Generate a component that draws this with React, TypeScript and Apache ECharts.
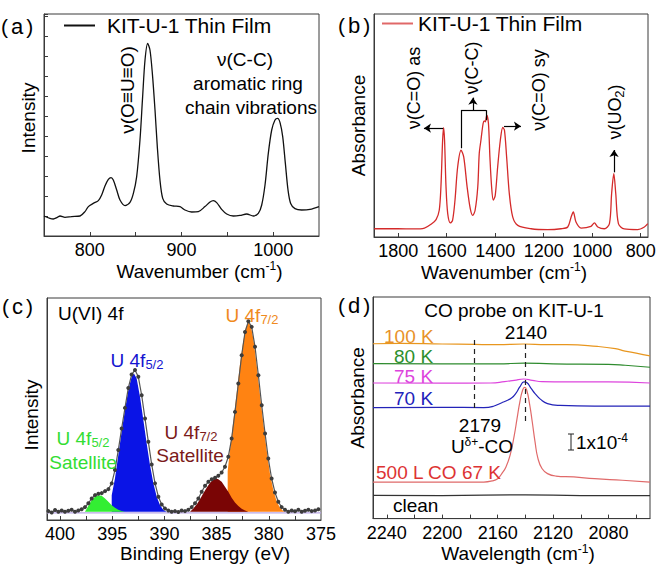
import React, { useEffect, useRef } from 'react';
import * as echarts from 'echarts';

const FONT = '"Liberation Sans", Arial, Helvetica, sans-serif';

// ---------- (a) Raman ----------
const ramanWavenumber = [750.0, 756.5, 760.2, 764.5, 767.5, 772.9, 780.2, 789.3, 794.7, 798.4, 803.8, 809.3, 812.9, 816.5, 820.2, 823.1, 825.6, 829.3, 832.9, 838.4, 843.8, 847.5, 851.1, 854.7, 857.6, 860.2, 863.1, 865.6, 868.2, 871.1, 873.6, 876.5, 879.5, 883.8, 891.1, 898.4, 903.8, 911.1, 918.4, 925.6, 931.1, 934.7, 938.4, 943.8, 949.3, 956.5, 963.8, 971.1, 978.4, 983.8, 987.5, 991.1, 994.7, 998.4, 1002.0, 1004.9, 1007.5, 1010.4, 1013.3, 1016.2, 1019.1, 1023.8, 1031.1, 1040.2, 1050.0];
const ramanIntensity = [10.0, 8.8, 8.5, 9.3, 10.0, 9.3, 9.7, 10.0, 12.2, 14.7, 16.3, 17.7, 20.5, 25.0, 28.3, 29.2, 28.0, 23.0, 18.0, 15.2, 16.8, 21.3, 29.7, 48.0, 69.7, 88.0, 96.3, 93.0, 81.3, 63.0, 44.7, 28.0, 18.8, 16.0, 15.0, 14.7, 13.0, 12.0, 12.2, 14.7, 17.0, 17.7, 16.7, 13.3, 11.0, 10.0, 10.3, 11.0, 10.0, 11.3, 15.5, 25.5, 41.3, 53.0, 58.0, 58.8, 56.7, 49.7, 36.3, 23.0, 16.3, 13.7, 13.0, 13.3, 14.7];
const ramanTickLabels = [800, 900, 1000];
const ramanTicks = [800, 850, 900, 950, 1000];

// ---------- (b) IR ----------
const irWavenumber = [1899, 1802, 1734, 1692, 1665, 1644, 1631, 1624, 1617, 1613, 1609, 1603, 1596, 1585, 1576, 1566, 1555, 1541, 1530, 1516, 1503, 1493, 1483, 1472, 1466, 1459, 1450, 1445, 1441, 1435, 1428, 1422, 1415, 1408, 1400, 1390, 1379, 1369, 1362, 1353, 1342, 1328, 1307, 1252, 1184, 1129, 1101, 1087, 1078, 1067, 1046, 1005, 991, 977, 950, 929, 920, 911, 903, 892, 868, 813, 785, 771];
const irAbsorbance = [3.7, 3.7, 3.6, 4.0, 5.7, 7.8, 12.0, 22.5, 43.4, 49.0, 43.4, 22.5, 10.5, 6.3, 7.5, 16.5, 31.4, 38.9, 35.9, 22.5, 12.7, 9.7, 12.0, 22.5, 37.4, 43.4, 50.9, 52.1, 51.6, 54.6, 50.9, 35.9, 22.5, 16.5, 18.7, 31.4, 43.4, 49.1, 47.9, 35.9, 19.5, 9.0, 5.2, 3.7, 3.3, 3.7, 4.5, 9.0, 11.2, 6.7, 4.0, 4.8, 6.3, 4.5, 3.7, 6.0, 19.5, 28.4, 19.5, 6.0, 3.6, 3.3, 4.5, 6.0];
const irTickLabels = [1800, 1600, 1400, 1200, 1000, 800];

// ---------- (c) XPS ----------
const xpsEnergy = [401.12, 400.80, 400.48, 400.16, 399.84, 399.53, 399.21, 398.89, 398.57, 398.25, 397.93, 397.61, 397.29, 396.97, 396.65, 396.33, 396.01, 395.69, 395.37, 395.05, 394.74, 394.42, 394.10, 393.78, 393.46, 393.14, 392.82, 392.50, 392.18, 391.86, 391.54, 391.22, 390.90, 390.58, 390.26, 389.95, 389.63, 389.31, 388.99, 388.67, 388.35, 388.03, 387.71, 387.39, 387.07, 386.75, 386.43, 386.11, 385.79, 385.47, 385.15, 384.84, 384.52, 384.20, 383.88, 383.56, 383.24, 382.92, 382.60, 382.28, 381.96, 381.64, 381.32, 381.00, 380.68, 380.36, 380.05, 379.73, 379.41, 379.09, 378.77, 378.45, 378.13, 377.81, 377.49, 377.17, 376.85, 376.53, 376.21, 375.89, 375.57, 375.25];
const xpsIntensity = [4.0, 3.4, 4.5, 3.7, 4.3, 3.7, 4.2, 4.6, 3.7, 4.3, 4.8, 5.8, 7.5, 9.7, 11.2, 11.8, 12.1, 13.0, 13.9, 16.5, 22.5, 31.5, 41.2, 50.5, 59.5, 65.5, 67.6, 64.5, 56.2, 45.7, 35.2, 25.0, 16.5, 10.5, 7.0, 5.2, 4.3, 3.7, 4.0, 3.6, 4.3, 4.0, 4.6, 5.8, 7.5, 9.7, 12.7, 15.4, 17.2, 18.4, 19.0, 19.9, 21.4, 24.0, 28.5, 36.7, 48.7, 61.5, 74.2, 84.7, 89.5, 87.0, 78.0, 65.2, 51.7, 39.0, 27.7, 18.7, 12.4, 8.2, 5.8, 4.6, 3.7, 4.3, 3.9, 4.6, 3.7, 4.2, 4.6, 4.0, 4.3, 4.8];
const xpsBase = 3.75;
const sat52Energy = [397.61, 397.29, 396.97, 396.65, 396.33, 396.01, 395.69, 395.37, 395.05, 394.74, 394.42, 394.10, 393.78];
const sat52Intensity = [3.75, 6.4, 9.0, 10.5, 11.2, 10.9, 9.7, 8.2, 6.7, 5.5, 4.6, 4.0, 3.75];
const f52Energy = [395.05, 394.74, 394.42, 394.10, 393.78, 393.46, 393.14, 392.92, 392.66, 392.34, 392.02, 391.70, 391.38, 391.06, 390.74, 390.42, 390.10, 389.79];
const f52Intensity = [11.2, 18.7, 29.2, 39.7, 49.5, 58.5, 64.5, 66.0, 63.7, 55.5, 45.0, 34.5, 24.7, 16.5, 10.5, 6.7, 4.5, 3.75];
const sat72Energy = [387.55, 387.23, 386.91, 386.59, 386.27, 385.95, 385.63, 385.31, 385.06, 384.84, 384.52, 384.20, 383.88, 383.56, 383.24, 382.92, 382.60, 382.28, 381.96];
const sat72Intensity = [3.75, 5.2, 7.0, 9.4, 12.0, 14.5, 16.8, 18.3, 18.7, 18.4, 17.2, 15.0, 12.7, 10.0, 7.9, 6.3, 5.1, 4.3, 3.75];
const f72Energy = [383.94, 383.71, 383.39, 383.07, 382.76, 382.44, 382.19, 381.96, 381.74, 381.48, 381.16, 380.84, 380.52, 380.21, 379.89, 379.57, 379.25, 378.93, 378.62, 378.45];
const f72Intensity = [22.0, 32.2, 44.9, 57.6, 70.3, 80.8, 86.8, 88.9, 87.7, 81.7, 69.7, 56.2, 43.5, 31.5, 21.0, 13.5, 8.5, 5.5, 4.0, 3.75];
const xpsTickLabels = [400, 395, 390, 385, 380, 375];
const xpsTicks = [400, 397.5, 395, 392.5, 390, 387.5, 385, 382.5, 380, 377.5];

// ---------- (d) CO probe ----------
const t100Wn = [2250, 2230, 2200, 2177, 2160, 2141, 2125, 2110, 2088, 2075, 2068, 2060, 2050];
const t100Abs = [78.9, 79.1, 78.8, 78.6, 78.5, 78.8, 78.5, 78.5, 77.7, 76.7, 75.6, 74.7, 73.4];
const t80Wn = [2250, 2200, 2160, 2141, 2120, 2080, 2068, 2050];
const t80Abs = [69.9, 69.8, 69.8, 70.2, 69.8, 69.6, 69.2, 68.3];
const t75Wn = [2250, 2200, 2165, 2155, 2148, 2141, 2135, 2128, 2110, 2080, 2050];
const t75Abs = [61.2, 61.1, 61.2, 61.8, 62.4, 63.0, 62.4, 61.8, 61.7, 61.7, 61.2];
const t70Wn = [2250, 2200, 2170, 2163, 2157, 2154, 2150, 2147, 2144, 2141, 2139, 2136, 2133, 2129, 2124, 2115, 2090, 2050];
const t70Abs = [50.1, 50.2, 50.1, 50.7, 52.3, 53.1, 54.4, 56.4, 59.4, 61.7, 61.4, 58.9, 56.4, 53.8, 51.9, 51.1, 50.8, 50.8];
const co67Wn = [2250, 2200, 2170, 2164, 2160, 2157, 2154, 2151, 2148, 2146, 2144, 2142, 2140.5, 2139, 2137, 2135, 2133, 2131, 2128, 2124, 2118, 2105, 2090, 2070, 2050];
const co67Abs = [16.5, 16.5, 16.5, 17.0, 18.0, 20.3, 23.3, 28.6, 37.6, 45.1, 52.6, 57.9, 59.2, 57.9, 51.9, 43.6, 34.6, 27.4, 22.6, 20.3, 19.2, 18.8, 18.0, 17.3, 16.5];
const cleanWn = [2250, 2200, 2140, 2100, 2050];
const cleanAbs = [10.5, 10.4, 10.7, 10.4, 10.4];
const coTickLabels = [2240, 2200, 2160, 2120, 2080];
const coTicks = [2240, 2220, 2200, 2180, 2160, 2140, 2120, 2100, 2080, 2060];

const zip = (xs: number[], ys: number[]) => xs.map((x, i) => [x, ys[i]]);

const AXIS_COLOR = '#3a3a3a';

function xAxisDef(grid: number, min: number, max: number, inverse: boolean, name: string, labels: number[], ticks: number[], padL: number, padR: number, gap: number) {
  return {
    gridIndex: grid, type: 'value', min, max, inverse,
    name, nameLocation: 'middle', nameGap: gap,
    nameTextStyle: {
      fontSize: 19, fontFamily: FONT, color: '#000', padding: [0, padR, 0, padL],
      rich: { sup: { fontSize: 12, fontFamily: FONT, color: '#000', padding: [0, 0, 10, 0] } },
    },
    axisLine: { show: true, lineStyle: { color: AXIS_COLOR, width: 1 } },
    axisTick: { show: true, inside: true, length: 4, customValues: ticks, lineStyle: { color: AXIS_COLOR } },
    axisLabel: {
      customValues: labels, fontSize: 18, fontFamily: FONT, color: '#000', margin: 5,
      formatter: (v: number) => String(v),
    },
    splitLine: { show: false },
  };
}

function yAxisDef(grid: number, min: number, max: number, name: string, padL: number, padR: number, ticks: boolean) {
  return {
    gridIndex: grid, type: 'value', min, max, interval: 10,
    name, nameLocation: 'middle', nameGap: 6,
    nameTextStyle: { fontSize: 19, fontFamily: FONT, color: '#000', padding: [0, padR, 0, padL] },
    axisLine: { show: true, lineStyle: { color: AXIS_COLOR, width: 1 } },
    axisTick: { show: ticks, inside: true, length: 4, lineStyle: { color: AXIS_COLOR } },
    axisLabel: { show: false },
    splitLine: { show: false },
  };
}

function fillSeries(name: string, xs: number[], ys: number[], color: string, z: number) {
  const data = zip(xs, ys);
  return {
    type: 'custom', name, xAxisIndex: 2, yAxisIndex: 2, z, silent: true,
    data,
    renderItem: (params: any, api: any) => {
      if (params.dataIndex !== 0) return null;
      const pts = data.map((d) => api.coord(d));
      pts.unshift(api.coord([xs[0], xpsBase]));
      pts.push(api.coord([xs[xs.length - 1], xpsBase]));
      return { type: 'polygon', shape: { points: pts }, style: { fill: color } };
    },
  };
}

function txt(text: string, x: number, y: number, opt: any = {}) {
  return {
    type: 'text', x, y, rotation: opt.rotation || 0, silent: true, z: 100,
    style: {
      text, fill: opt.color || '#000', fontSize: opt.size || 19, fontFamily: FONT,
      align: opt.align || 'center', verticalAlign: 'middle', rich: opt.rich,
    },
  };
}

function subRich(color: string, size = 19) {
  return {
    m: { fontSize: size, fontFamily: FONT, fill: color },
    s: { fontSize: 13, fontFamily: FONT, fill: color, padding: [9, 0, 0, 0] },
  };
}
function supRich(color: string, size = 19) {
  return {
    m: { fontSize: size, fontFamily: FONT, fill: color },
    s: { fontSize: 12, fontFamily: FONT, fill: color, padding: [0, 0, 9, 0] },
  };
}
const panelRich = {
  p: { fontSize: 21, fontFamily: FONT, fill: '#000' },
  l: { fontSize: 22, fontFamily: FONT, fill: '#000', padding: [0, 3, 0, 3] },
};

function buildOption() {
  const arrow = (a: number[], b: number[], head = true) => [
    { coord: a, symbol: 'none' },
    { coord: b, symbol: head ? 'arrow' : 'none' },
  ];
  const R = Math.PI / 2;
  const legendBase = {
    itemWidth: 31, itemHeight: 2, icon: 'rect', selectedMode: false, padding: 0,
    formatter: () => 'KIT-U-1 Thin Film',
  };
  return {
    animation: false,
    backgroundColor: '#fff',
    grid: [
      { left: 44, top: 14, width: 275, height: 222, show: true, borderColor: AXIS_COLOR, borderWidth: 1 },
      { left: 374, top: 14, width: 274, height: 223, show: true, borderColor: AXIS_COLOR, borderWidth: 1 },
      { left: 47, top: 298, width: 274, height: 222, show: true, borderColor: AXIS_COLOR, borderWidth: 1 },
      { left: 373, top: 297, width: 277, height: 222, show: true, borderColor: AXIS_COLOR, borderWidth: 1 },
    ],
    xAxis: [
      xAxisDef(0, 750, 1050, false, 'Wavenumber (cm{sup|-1})', ramanTickLabels, ramanTicks, 36, 0, 24),
      xAxisDef(1, 770, 1900, true, 'Wavenumber (cm{sup|-1})', irTickLabels, irTickLabels, 0, 14, 24),
      xAxisDef(2, 375, 401.25, true, 'Binding Energy (eV)', xpsTickLabels, xpsTicks, 42, 0, 20),
      xAxisDef(3, 2050, 2250, true, 'Wavelength (cm{sup|-1})', coTickLabels, coTicks, 13, 0, 21),
    ],
    yAxis: [
      yAxisDef(0, 0, 111, 'Intensity', 14, 0, true),
      yAxisDef(1, 0, 100, 'Absorbance', 0, 0, false),
      yAxisDef(2, 0, 100, 'Intensity', 0, 12, false),
      yAxisDef(3, 0, 100, 'Absorbance', 20, 0, false),
    ],
    legend: [
      {
        ...legendBase, data: ['filmA'], left: 64, top: 15,
        textStyle: { fontSize: 21, fontFamily: FONT, color: '#000', padding: [0, 0, 0, 7] },
      },
      {
        ...legendBase, data: ['filmB'], left: 382, top: 13,
        textStyle: { fontSize: 21, fontFamily: FONT, color: '#000', padding: [0, 0, 0, 0] },
      },
    ],
    series: [
      {
        type: 'line', name: 'filmA', xAxisIndex: 0, yAxisIndex: 0, data: zip(ramanWavenumber, ramanIntensity),
        symbol: 'none', smooth: 0.3, lineStyle: { color: '#111', width: 1.3 }, itemStyle: { color: '#111' },
      },
      {
        type: 'line', name: 'filmB', xAxisIndex: 1, yAxisIndex: 1, data: zip(irWavenumber, irAbsorbance),
        symbol: 'none', smooth: 0.3, lineStyle: { color: '#d42a2a', width: 1.3 }, itemStyle: { color: '#e06868' },
        markLine: {
          silent: true, symbolSize: 7, label: { show: false },
          lineStyle: { color: '#000', width: 1.2, type: 'solid' },
          emphasis: { disabled: true },
          data: [
            arrow([1615, 48.8], [1694, 48.8]),
            arrow([1541, 39.8], [1541, 56.9], false),
            arrow([1541, 56.9], [1438, 56.9], false),
            arrow([1438, 56.9], [1438, 52.4], false),
            arrow([1492, 56.9], [1492, 62.5]),
            arrow([1364, 49.7], [1294, 49.7]),
            arrow([910, 29.0], [910, 39.0]),
          ],
        },
      },
      {
        type: 'line', name: 'baseline', xAxisIndex: 2, yAxisIndex: 2, data: [[401.25, 3.2], [375, 3.2]],
        symbol: 'none', lineStyle: { color: '#b8a6e6', width: 1.2 }, z: 1, silent: true,
      },
      fillSeries('U 4f5/2', f52Energy, f52Intensity, '#0a14e6', 2),
      fillSeries('U 4f5/2 satellite', sat52Energy, sat52Intensity, '#33ee33', 3),
      fillSeries('U 4f7/2', f72Energy, f72Intensity, '#ff8312', 2),
      fillSeries('U 4f7/2 satellite', sat72Energy, sat72Intensity, '#7a0505', 3),
      {
        type: 'line', name: 'XPS data', xAxisIndex: 2, yAxisIndex: 2, data: zip(xpsEnergy, xpsIntensity),
        symbol: 'circle', symbolSize: 4, showAllSymbol: true, itemStyle: { color: '#3c3c3c' },
        lineStyle: { color: '#555', width: 1.2 }, z: 10, silent: true,
      },
      {
        type: 'line', name: '100 K', xAxisIndex: 3, yAxisIndex: 3, data: zip(t100Wn, t100Abs),
        symbol: 'none', smooth: true, lineStyle: { color: '#e8961e', width: 1.2 },
      },
      {
        type: 'line', name: '80 K', xAxisIndex: 3, yAxisIndex: 3, data: zip(t80Wn, t80Abs),
        symbol: 'none', smooth: true, lineStyle: { color: '#2e8b2e', width: 1.2 },
      },
      {
        type: 'line', name: '75 K', xAxisIndex: 3, yAxisIndex: 3, data: zip(t75Wn, t75Abs),
        symbol: 'none', smooth: true, lineStyle: { color: '#dd44dd', width: 1.2 },
      },
      {
        type: 'line', name: '70 K', xAxisIndex: 3, yAxisIndex: 3, data: zip(t70Wn, t70Abs),
        symbol: 'none', smooth: true, lineStyle: { color: '#2323b8', width: 1.2 },
      },
      {
        type: 'line', name: '500 L CO 67 K', xAxisIndex: 3, yAxisIndex: 3, data: zip(co67Wn, co67Abs),
        symbol: 'none', smooth: true, lineStyle: { color: '#e06a6a', width: 1.2 },
      },
      {
        type: 'line', name: 'clean', xAxisIndex: 3, yAxisIndex: 3, data: zip(cleanWn, cleanAbs),
        symbol: 'none', smooth: true, lineStyle: { color: '#333', width: 1.2 },
        markLine: {
          silent: true, symbol: 'none', label: { show: false },
          lineStyle: { color: '#222', width: 1.2, type: [5, 4] },
          data: [
            [{ coord: [2140, 78.8] }, { coord: [2140, 43.6] }],
            [{ coord: [2177, 80.6] }, { coord: [2177, 49.0] }],
          ],
        },
      },
    ],
    graphic: [
      // panel labels
      txt('{p|(}{l|a}{p|)}', 1, 26, { align: 'left', rich: panelRich }),
      txt('{p|(}{l|b}{p|)}', 338, 25, { align: 'left', rich: panelRich }),
      txt('{p|(}{l|c}{p|)}', 2, 306, { align: 'left', rich: panelRich }),
      txt('{p|(}{l|d}{p|)}', 338, 305, { align: 'left', rich: panelRich }),
      // (a)
      txt('ν(O≡U≡O)', 127, 90, { rotation: R }),
      txt('ν(C-C)', 245, 59),
      txt('aromatic ring', 248, 83),
      txt('chain vibrations', 251, 107),
      // (b)
      txt('ν(C=O) as', 414, 88, { rotation: R, size: 18 }),
      txt('ν(C-C)', 472, 68, { rotation: R, size: 18 }),
      txt('ν(C=O) sy', 539, 90, { rotation: R, size: 18 }),
      txt('{m|ν(UO}{s|2}{m|)}', 615, 112, { rotation: R, rich: subRich('#000', 18) }),
      // (c)
      txt('U(VI) 4f', 58, 313, { align: 'left' }),
      txt('{m|U 4f}{s|5/2}', 137, 360, { rich: subRich('#1515d0') }),
      txt('{m|U 4f}{s|7/2}', 252, 315, { rich: subRich('#f08a20') }),
      txt('{m|U 4f}{s|5/2}', 83, 438, { rich: subRich('#33dd33') }),
      txt('Satellite', 83, 462, { color: '#33dd33' }),
      txt('{m|U 4f}{s|7/2}', 191, 432, { rich: subRich('#7b1a1a') }),
      txt('Satellite', 190, 455, { color: '#7b1a1a' }),
      // (d)
      txt('CO probe on KIT-U-1', 514, 310),
      txt('100 K', 384, 336, { align: 'left', color: '#e8922a' }),
      txt('2140', 526, 332),
      txt('80 K', 394, 356, { align: 'left', color: '#2d8f2d' }),
      txt('75 K', 394, 376, { align: 'left', color: '#dd44dd' }),
      txt('70 K', 394, 398, { align: 'left', color: '#2222bb' }),
      txt('2179', 480, 425),
      txt('{m|U}{s|δ+}{m|-CO}', 482, 446, { rich: supRich('#000') }),
      txt('{m|1x10}{s|-4}', 576, 442, { align: 'left', rich: supRich('#000') }),
      txt('500 L CO 67 K', 376, 472, { align: 'left', color: '#dd3333' }),
      txt('clean', 393, 505, { align: 'left' }),
      { type: 'line', silent: true, shape: { x1: 571, y1: 434, x2: 571, y2: 450 }, style: { stroke: '#222', lineWidth: 1 } },
      { type: 'line', silent: true, shape: { x1: 568, y1: 434, x2: 574, y2: 434 }, style: { stroke: '#222', lineWidth: 1 } },
      { type: 'line', silent: true, shape: { x1: 568, y1: 450, x2: 574, y2: 450 }, style: { stroke: '#222', lineWidth: 1 } },
    ],
  };
}

export default function App() {
  const ref = useRef<HTMLDivElement>(null);
  useEffect(() => {
    if (!ref.current) return;
    const chart = echarts.init(ref.current, null, { renderer: 'svg' });
    chart.setOption(buildOption() as any);
    return () => chart.dispose();
  }, []);
  return (
    <div
      ref={ref}
      style={{ position: 'fixed', left: 0, top: 0, width: 662, height: 564, background: '#fff' }}
    />
  );
}
